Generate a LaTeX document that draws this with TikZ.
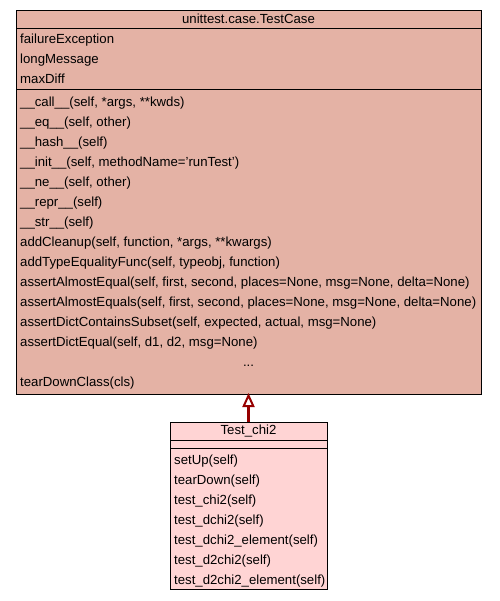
\documentclass[tikz,border=0pt]{standalone}
\usepackage{fontspec}
\setmainfont{Liberation Sans}
\usetikzlibrary{arrows.meta}
\definecolor{basefill}{RGB}{228,178,165}
\definecolor{childfill}{RGB}{255,212,212}
\definecolor{edgecol}{RGB}{150,0,0}
\begin{document}
\begin{tikzpicture}[x=1pt,y=-1pt,
  classbox/.style={draw=black, line width=1pt, inner sep=0pt, outer sep=0pt},
  sepline/.style={draw=black, line width=1pt},
  txt/.style={inner sep=0pt, anchor=mid west, font=\fontsize{13.2}{15}\selectfont},
  ttl/.style={inner sep=0pt, anchor=mid, font=\fontsize{13.2}{15}\selectfont},
  inherit/.style={draw=edgecol, line width=2.4pt, -{Triangle[open, length=14pt, width=12pt, line width=2pt]}}
]
\useasboundingbox (0,0) rectangle (499,601);
% base class
\node[classbox, fill=basefill, minimum width=465pt, minimum height=383pt] (base) at (248.5,202.5) {};
\draw[sepline] (16,29) -- (481,29);
\draw[sepline] (16,90) -- (481,90);
\node[ttl] (bt) at (248.5,21) {unittest.case.TestCase};
\node[txt] (a1) at (20,40.5) {failureException};
\node[txt] (a2) at (20,60.5) {longMessage};
\node[txt] (a3) at (20,80.5) {maxDiff};
\node[txt] (m1) at (20,103.5) {\_\_call\_\_(self, *args, **kwds)};
\node[txt] (m2) at (20,123.5) {\_\_eq\_\_(self, other)};
\node[txt] (m3) at (20,143.5) {\_\_hash\_\_(self)};
\node[txt] (m4) at (20,163.5) {\_\_init\_\_(self, methodName='runTest')};
\node[txt] (m5) at (20,183.5) {\_\_ne\_\_(self, other)};
\node[txt] (m6) at (20,203.5) {\_\_repr\_\_(self)};
\node[txt] (m7) at (20,223.5) {\_\_str\_\_(self)};
\node[txt] (m8) at (20,243.5) {addCleanup(self, function, *args, **kwargs)};
\node[txt] (m9) at (20,263.5) {addTypeEqualityFunc(self, typeobj, function)};
\node[txt] (m10) at (20,283.5) {assertAlmostEqual(self, first, second, places=None, msg=None, delta=None)};
\node[txt] (m11) at (20,303.5) {assertAlmostEquals(self, first, second, places=None, msg=None, delta=None)};
\node[txt] (m12) at (20,323.5) {assertDictContainsSubset(self, expected, actual, msg=None)};
\node[txt] (m13) at (20,343.5) {assertDictEqual(self, d1, d2, msg=None)};
\node[ttl] (m14) at (248.5,363.5) {...};
\node[txt] (m15) at (20,383.5) {tearDownClass(cls)};
% child class
\node[classbox, fill=childfill, minimum width=157pt, minimum height=167pt] (child) at (248.5,505.5) {};
\draw[sepline] (170,440) -- (327,440);
\draw[sepline] (170,448) -- (327,448);
\node[ttl] (ct) at (248.5,432) {Test\_chi2};
\node[txt] (c1) at (174,461.5) {setUp(self)};
\node[txt] (c2) at (174,481.5) {tearDown(self)};
\node[txt] (c3) at (174,501.5) {test\_chi2(self)};
\node[txt] (c4) at (174,521.5) {test\_dchi2(self)};
\node[txt] (c5) at (174,541.5) {test\_dchi2\_element(self)};
\node[txt] (c6) at (174,561.5) {test\_d2chi2(self)};
\node[txt] (c7) at (174,581.5) {test\_d2chi2\_element(self)};
% inheritance
\draw[inherit] (child.north) -- ([yshift=1pt]base.south);
\end{tikzpicture}
\end{document}
